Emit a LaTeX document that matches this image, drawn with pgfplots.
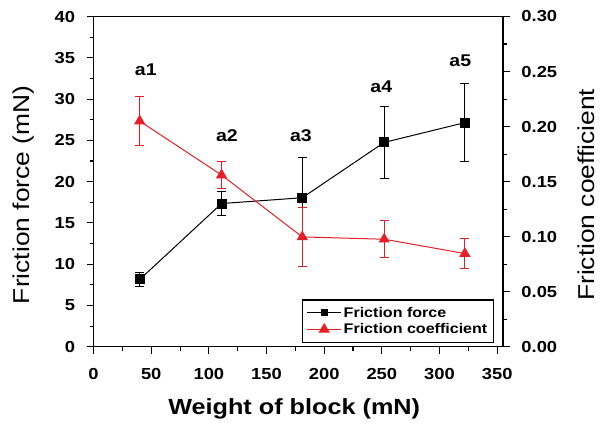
\documentclass[border=0pt]{standalone}
\usepackage{fontspec}
\setmainfont{Liberation Sans}[FakeStretch=1.15]
\usepackage{pgfplots}
\pgfplotsset{compat=1.18}
\definecolor{myred}{RGB}{232,30,38}
\pgfplotstableread{
x y e
40 8.15 0.8
111 17.35 1.5
181 18.05 4.9
252 24.75 4.35
322 27.15 4.7
}\forcedata
\pgfplotstableread{
x y e
40 0.205 0.022
111 0.156 0.012
181 0.0998 0.027
252 0.0977 0.017
322 0.0847 0.014
}\coefdata
\begin{document}
\begin{tikzpicture}
\pgfplotsset{
  every axis/.append style={
    scale only axis, width=409bp, height=330bp,
    xmin=0, xmax=355,
    ticklabel style={font=\bfseries\fontsize{16}{18}\selectfont},
    /pgf/number format/assume math mode=true,
    tick align=outside,
    major tick length=7bp, minor tick length=4bp,
    every tick/.style={black, line width=1.1bp},
    axis line style={line width=1.4bp},
  }
}
\begin{axis}[
  ymin=0, ymax=40,
  xtick={0,50,100,150,200,250,300,350},
  ytick={0,5,10,15,20,25,30,35,40},
  minor x tick num=1, minor y tick num=1,
  xtick pos=left, ytick pos=left,
  yticklabel style={xshift=-8bp},
  xticklabel style={yshift=-11bp},
  xlabel={Weight of block (mN)},
  xlabel style={font=\bfseries\fontsize{22}{24}\selectfont,
    at={(axis description cs:0.49,-0.188)}, anchor=center},
  ylabel={Friction force (mN)},
  ylabel style={font=\fontsize{23}{25}\selectfont,
    at={(axis description cs:-0.170,0.46)}, anchor=center},
]
\addplot[black, line width=1bp, mark=square*, mark size=4.5bp,
  mark options={solid, fill=black},
  error bars/.cd, y dir=both, y explicit,
  error bar style={line width=1bp},
  error mark options={rotate=90, mark size=4.5bp, line width=1bp}]
  table[x=x, y=y, y error=e] {\forcedata};
\node[font=\bfseries\fontsize{17}{19}\selectfont] at (axis cs:45.3,33.5) {a1};
\node[font=\bfseries\fontsize{17}{19}\selectfont] at (axis cs:115.6,25.6) {a2};
\node[font=\bfseries\fontsize{17}{19}\selectfont] at (axis cs:179.8,25.6) {a3};
\node[font=\bfseries\fontsize{17}{19}\selectfont] at (axis cs:249.5,31.5) {a4};
\node[font=\bfseries\fontsize{17}{19}\selectfont] at (axis cs:318,34.6) {a5};
\end{axis}
\begin{axis}[
  hide x axis,
  ymin=0, ymax=0.30,
  ytick={0,0.05,0.10,0.15,0.20,0.25,0.30},
  minor y tick num=1,
  ytick pos=right, yticklabel pos=right,
  yticklabel style={xshift=8bp, /pgf/number format/.cd, fixed, fixed zerofill, precision=2},
  ylabel={Friction coefficient},
  ylabel style={font=\fontsize{23}{25}\selectfont,
    at={(axis description cs:1.204,0.46)}, anchor=center},
  legend style={at={(rel axis cs:0.978,0.012)}, anchor=south east,
    draw=black, line width=1.2bp, fill=white,
    font=\bfseries\fontsize{14}{16}\selectfont,
    inner xsep=4bp, inner ysep=5bp, row sep=1bp},
  legend cell align=left,
  legend image code/.code={\draw[mark repeat=2, mark phase=2, #1]
    plot coordinates {(0bp,0bp) (17bp,0bp) (34bp,0bp)};},
]
\addlegendimage{black, line width=1bp, mark=square*, mark size=3bp, mark options={solid, fill=black}}
\addlegendentry{Friction force}
\addplot[myred, line width=1bp, mark=triangle*, mark size=5.5bp,
  mark options={solid, fill=myred},
  error bars/.cd, y dir=both, y explicit,
  error bar style={line width=1bp, myred},
  error mark options={rotate=90, mark size=4.5bp, line width=1bp, myred}]
  table[x=x, y=y, y error=e] {\coefdata};
\addlegendentry{Friction coefficient}
\end{axis}
\path ([xshift=-93.5bp, yshift=-77.5bp]current axis.south west)
  rectangle ([xshift=102bp, yshift=16.5bp]current axis.north east);
\end{tikzpicture}
\end{document}
